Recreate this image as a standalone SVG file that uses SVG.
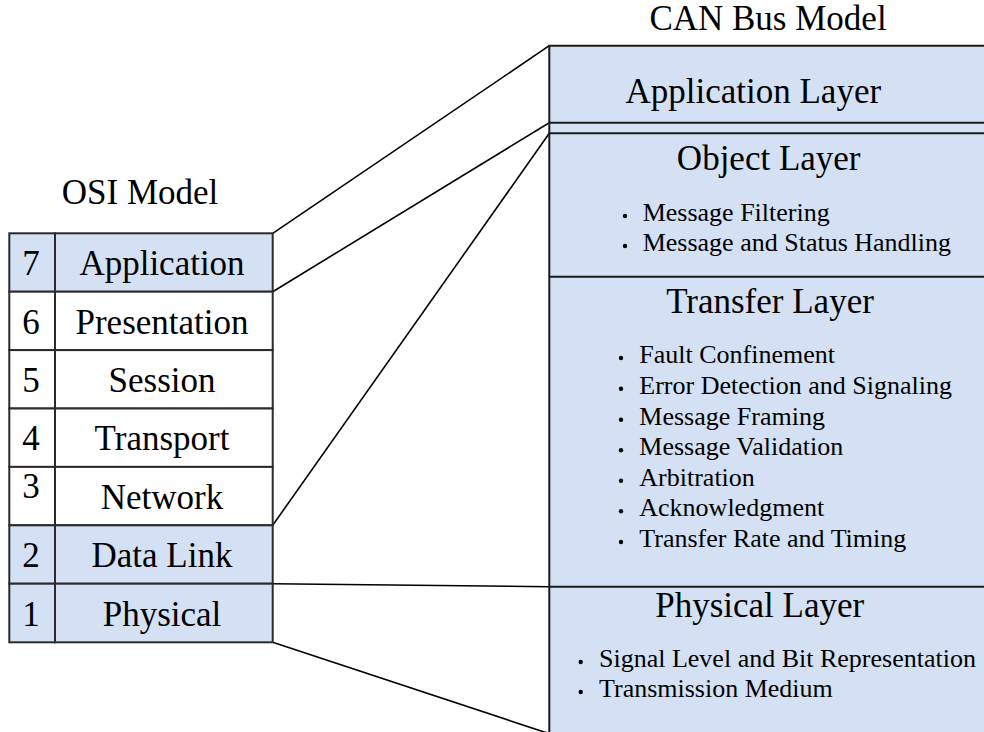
<svg xmlns="http://www.w3.org/2000/svg" width="984" height="732" viewBox="0 0 984 732">
  <style>
    .t { font-family: "Liberation Serif", "Times New Roman", serif; fill: #000; }
    .big { font-size: 35px; }
    .item { font-size: 26px; }
    .mid { text-anchor: middle; }
    .cell { stroke: #2b2b2b; stroke-width: 2; }
    .blue { fill: #d4e0f3; }
    .white { fill: #ffffff; }
    .sep { stroke: #1a1a1a; stroke-width: 2; fill: none; }
    .link { stroke: #000; stroke-width: 1.6; fill: none; }
    .dot { fill: #000; }
  </style>

  <rect width="984" height="732" fill="#ffffff"/>

  <!-- titles -->
  <text class="t big mid" x="140" y="204">OSI Model</text>
  <text class="t big mid" x="768" y="30">CAN Bus Model</text>

  <!-- connectors between the two stacks -->
  <g id="connectors">
    <line class="link" x1="272.7" y1="233.3" x2="549.3" y2="45.7"/>
    <line class="link" x1="272.7" y1="291.7" x2="549.3" y2="122.7"/>
    <line class="link" x1="272.7" y1="525.3" x2="549.3" y2="133.3"/>
    <line class="link" x1="272.7" y1="583.7" x2="549.3" y2="586.7"/>
    <line class="link" x1="272.7" y1="642.3" x2="549.3" y2="733.7"/>
  </g>

  <!-- OSI stack -->
  <g id="osi-7">
    <rect class="cell blue" x="9.3" y="233.3" width="45.7" height="58.4"/>
    <rect class="cell blue" x="55" y="233.3" width="217.7" height="58.4"/>
    <text class="t big mid" x="31" y="275.1">7</text>
    <text class="t big mid" x="162" y="275.1">Application</text>
  </g>
  <g id="osi-6">
    <rect class="cell white" x="9.3" y="291.7" width="45.7" height="58.4"/>
    <rect class="cell white" x="55" y="291.7" width="217.7" height="58.4"/>
    <text class="t big mid" x="31" y="333.5">6</text>
    <text class="t big mid" x="162" y="333.5">Presentation</text>
  </g>
  <g id="osi-5">
    <rect class="cell white" x="9.3" y="350.1" width="45.7" height="58.4"/>
    <rect class="cell white" x="55" y="350.1" width="217.7" height="58.4"/>
    <text class="t big mid" x="31" y="391.9">5</text>
    <text class="t big mid" x="162" y="391.9">Session</text>
  </g>
  <g id="osi-4">
    <rect class="cell white" x="9.3" y="408.5" width="45.7" height="58.4"/>
    <rect class="cell white" x="55" y="408.5" width="217.7" height="58.4"/>
    <text class="t big mid" x="31" y="450.3">4</text>
    <text class="t big mid" x="162" y="450.3">Transport</text>
  </g>
  <g id="osi-3">
    <rect class="cell white" x="9.3" y="466.9" width="45.7" height="58.4"/>
    <rect class="cell white" x="55" y="466.9" width="217.7" height="58.4"/>
    <text class="t big mid" x="31" y="497.5">3</text>
    <text class="t big mid" x="162" y="508.7">Network</text>
  </g>
  <g id="osi-2">
    <rect class="cell blue" x="9.3" y="525.3" width="45.7" height="58.4"/>
    <rect class="cell blue" x="55" y="525.3" width="217.7" height="58.4"/>
    <text class="t big mid" x="31" y="567.1">2</text>
    <text class="t big mid" x="162" y="567.1">Data Link</text>
  </g>
  <g id="osi-1">
    <rect class="cell blue" x="9.3" y="583.7" width="45.7" height="58.6"/>
    <rect class="cell blue" x="55" y="583.7" width="217.7" height="58.6"/>
    <text class="t big mid" x="31" y="625.5">1</text>
    <text class="t big mid" x="162" y="625.5">Physical</text>
  </g>

  <!-- CAN stack: one tall panel split into layers -->
  <g id="can-panel">
    <rect class="blue" x="549.3" y="45.7" width="440" height="700"/>
    <polyline class="sep" points="990,45.7 549.3,45.7 549.3,740"/>
  </g>

  <g id="can-application">
    <text class="t big mid" x="753.3" y="102.7">Application Layer</text>
    <line class="sep" x1="549.3" y1="122.7" x2="990" y2="122.7"/>
  </g>

  <g id="can-object">
    <line class="sep" x1="549.3" y1="133.3" x2="990" y2="133.3"/>
    <text class="t big mid" x="768.7" y="170">Object Layer</text>
    <circle class="dot" cx="625" cy="216" r="2.2"/>
    <text class="t item" x="642.7" y="220.7">Message Filtering</text>
    <circle class="dot" cx="625" cy="246" r="2.2"/>
    <text class="t item" x="642.7" y="250.7">Message and Status Handling</text>
  </g>

  <g id="can-transfer">
    <line class="sep" x1="549.3" y1="276.7" x2="990" y2="276.7"/>
    <text class="t big mid" x="770" y="313.3">Transfer Layer</text>
    <circle class="dot" cx="621" cy="358" r="2.2"/>
    <text class="t item" x="639.3" y="362.7">Fault Confinement</text>
    <circle class="dot" cx="621" cy="388.8" r="2.2"/>
    <text class="t item" x="639.3" y="393.5">Error Detection and Signaling</text>
    <circle class="dot" cx="621" cy="419.8" r="2.2"/>
    <text class="t item" x="639.3" y="424.5">Message Framing</text>
    <circle class="dot" cx="621" cy="450.3" r="2.2"/>
    <text class="t item" x="639.3" y="455">Message Validation</text>
    <circle class="dot" cx="621" cy="480.8" r="2.2"/>
    <text class="t item" x="639.3" y="485.5">Arbitration</text>
    <circle class="dot" cx="621" cy="511.3" r="2.2"/>
    <text class="t item" x="639.3" y="516">Acknowledgment</text>
    <circle class="dot" cx="621" cy="542" r="2.2"/>
    <text class="t item" x="639.3" y="546.7">Transfer Rate and Timing</text>
  </g>

  <g id="can-physical">
    <line class="sep" x1="549.3" y1="586.7" x2="990" y2="586.7"/>
    <text class="t big mid" x="759.7" y="617.3">Physical Layer</text>
    <circle class="dot" cx="580.7" cy="662" r="2.2"/>
    <text class="t item" x="599" y="666.7">Signal Level and Bit Representation</text>
    <circle class="dot" cx="580.7" cy="692" r="2.2"/>
    <text class="t item" x="599" y="696.7">Transmission Medium</text>
  </g>
</svg>
